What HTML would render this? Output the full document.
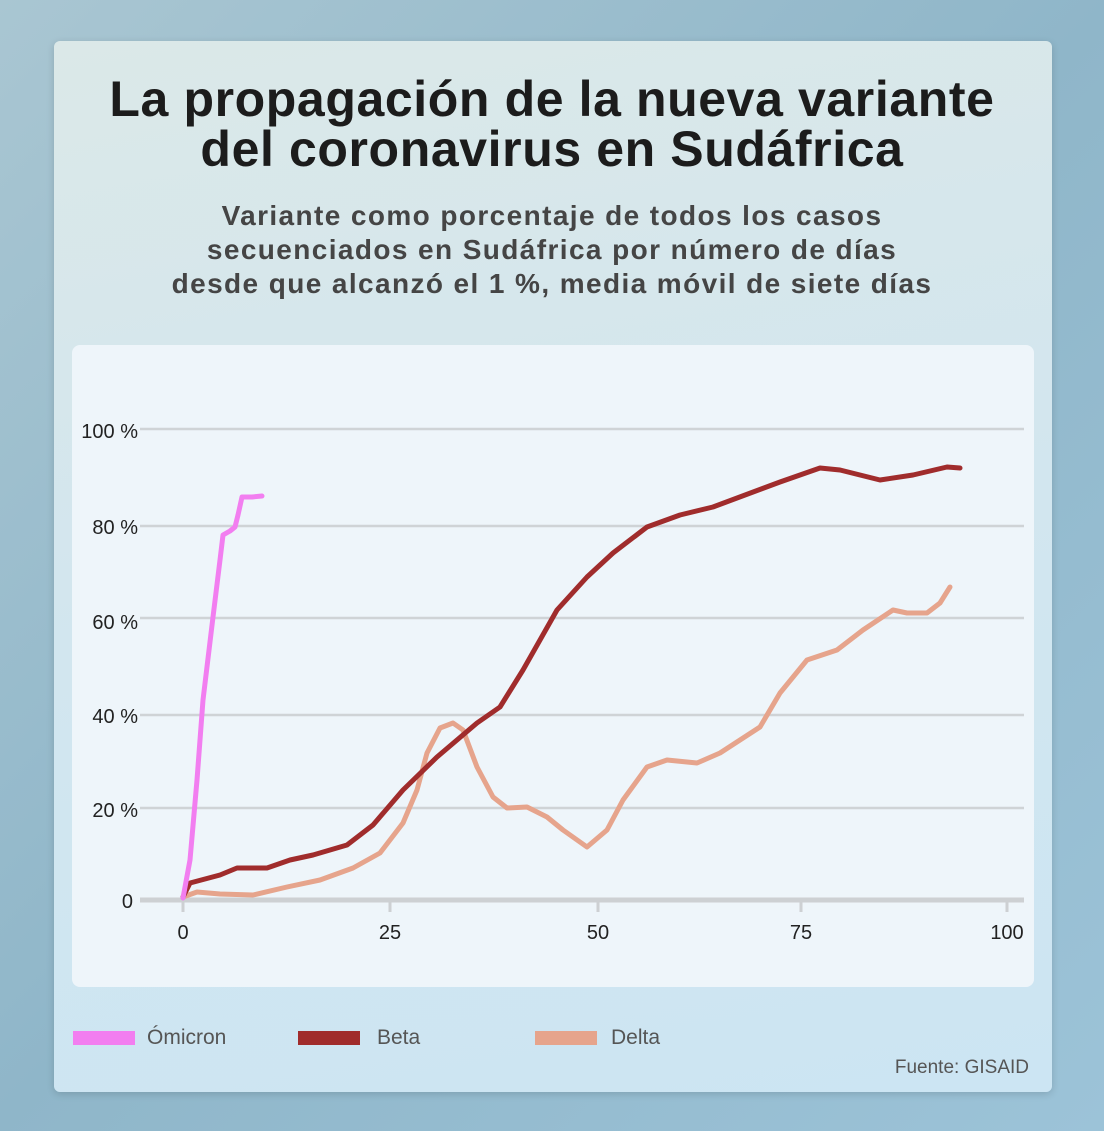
<!DOCTYPE html>
<html><head><meta charset="utf-8"><style>
html,body{margin:0;padding:0}
body{width:1104px;height:1131px;position:relative;overflow:hidden;background:linear-gradient(135deg,#a9c6d2 0%,#8fb6c9 50%,#9cc3d8 100%);font-family:"Liberation Sans",sans-serif}
.card{position:absolute;left:54px;top:41px;width:998px;height:1051px;border-radius:6px;background:linear-gradient(170deg,#dbe8e8 0%,#d2e6ef 50%,#cce5f3 100%);box-shadow:0 2px 8px rgba(0,0,0,.15)}
.panel{position:absolute;left:72px;top:345px;width:962px;height:642px;border-radius:8px;background:#eef5fa}
.t{position:absolute;left:0;width:1104px;text-align:center;font-weight:bold}
.title{font-size:50px;color:#1c1c1c;letter-spacing:0.6px;line-height:50px}
.sub{font-size:28px;color:#454545;line-height:34px;letter-spacing:1.4px}
.leg{position:absolute;font-size:21px;color:#555}
.sw{position:absolute;width:62px;height:14px;top:1031px}
</style></head><body>
<div class="card"></div>
<div class="panel"></div>
<div class="t title" style="top:74px">La propagación de la nueva variante<br>del coronavirus en Sudáfrica</div>
<div class="t sub" style="top:199px">Variante como porcentaje de todos los casos<br>secuenciados en Sudáfrica por número de días<br>desde que alcanzó el 1 %, media móvil de siete días</div>
<svg width="1104" height="1131" style="position:absolute;left:0;top:0" font-family="Liberation Sans, sans-serif">
<g stroke="#cfd3d6" stroke-width="2.5">
<line x1="140" y1="429" x2="1024" y2="429"/>
<line x1="140" y1="526" x2="1024" y2="526"/>
<line x1="140" y1="618" x2="1024" y2="618"/>
<line x1="140" y1="715" x2="1024" y2="715"/>
<line x1="140" y1="808" x2="1024" y2="808"/>
</g>
<line x1="140" y1="900" x2="1024" y2="900" stroke="#cdd0d3" stroke-width="5"/>
<g stroke="#cdd0d3" stroke-width="3">
<line x1="183" y1="900" x2="183" y2="912"/><line x1="390" y1="900" x2="390" y2="912"/><line x1="598" y1="900" x2="598" y2="912"/><line x1="801" y1="900" x2="801" y2="912"/><line x1="1007" y1="900" x2="1007" y2="912"/>
</g>
<g font-size="20" fill="#222" text-anchor="end">
<text x="138" y="438">100 %</text><text x="138" y="534">80 %</text><text x="138" y="629">60 %</text><text x="138" y="723">40 %</text><text x="138" y="817">20 %</text><text x="133" y="908">0</text>
</g>
<g font-size="20" fill="#222" text-anchor="middle">
<text x="183" y="939">0</text><text x="390" y="939">25</text><text x="598" y="939">50</text><text x="801" y="939">75</text><text x="1007" y="939">100</text>
</g>
<g fill="none" stroke-linecap="round" stroke-linejoin="round" stroke-width="5">
<polyline stroke="#e6a48c" points="183,897 197,892 220,894 253,895 287,887 320,880 353,868 380,853 403,823 417,790 427,753 440,728 453,723 463,730 477,767 493,797 507,808 527,807 547,817 563,830 587,847 607,830 623,800 647,767 667,760 697,763 720,753 760,727 780,693 807,660 837,650 863,630 893,610 907,613 927,613 940,603 950,587"/>
<polyline stroke="#a02c2c" points="183,897 190,883 220,875 237,868 267,868 290,860 313,855 347,845 373,825 403,790 437,757 477,723 500,707 523,670 557,610 587,577 613,553 647,527 680,515 713,507 780,482 820,468 840,470 880,480 913,475 947,467 960,468"/>
<polyline stroke="#f27ef0" points="183,898 190,860 197,780 203,700 213,617 220,560 223,535 230,531 235,527 238,515 242,497 252,497 262,496"/>
</g>
</svg>
<div class="sw" style="left:73px;background:#f27ef0"></div>
<div class="sw" style="left:298px;background:#a02c2c"></div>
<div class="sw" style="left:535px;background:#e6a48c"></div>
<div class="leg" style="left:147px;top:1026px">Ómicron</div>
<div class="leg" style="left:377px;top:1026px">Beta</div>
<div class="leg" style="left:611px;top:1026px">Delta</div>
<div class="leg" style="right:75px;top:1057px;font-size:19px">Fuente: GISAID</div>
</body></html>
